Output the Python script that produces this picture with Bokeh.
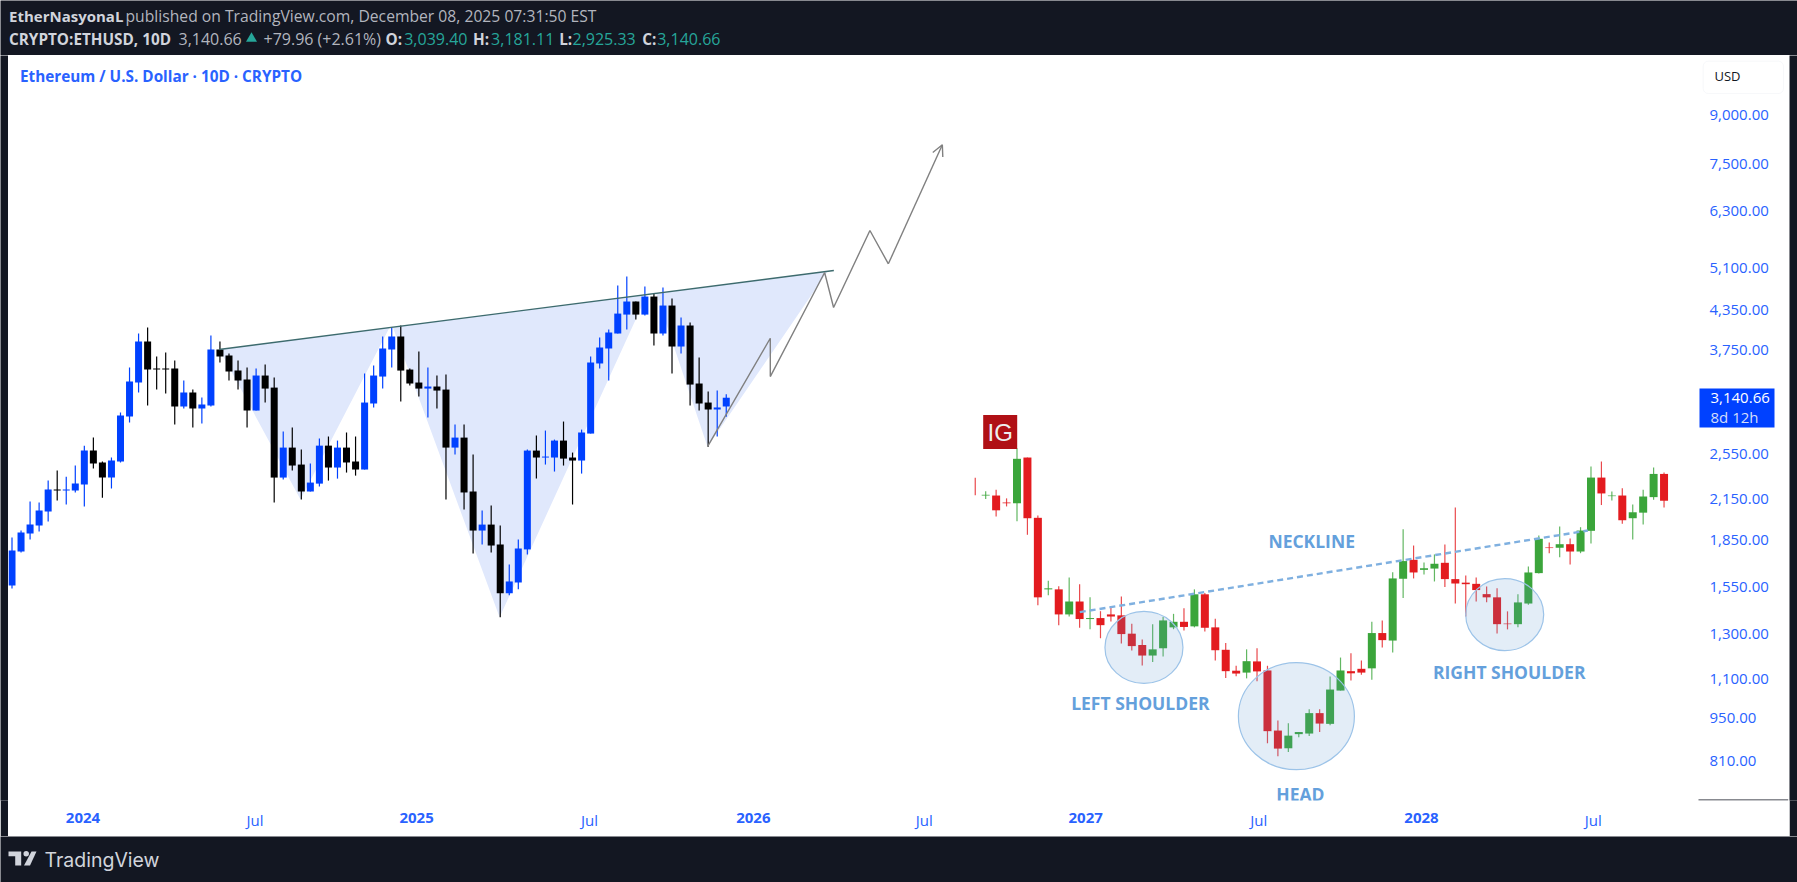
import numpy as np
from bokeh.core.properties import value
from bokeh.embed import file_html
from bokeh.layouts import column, row
from bokeh.models import (Arrow, BoxAnnotation, FixedTicker, Label, LinearAxis,
                          NumeralTickFormatter, OpenHead, Range1d)
from bokeh.plotting import figure
from bokeh.resources import INLINE

# ETH/USD 10D candles (left part of the chart)
eth_open = [1559, 1769, 1892, 1949, 2053, 2229, 2221, 2221, 2271, 2578, 2466, 2331, 2475, 2927, 3323, 3873,
            3501, 3501, 3501, 3039, 3201, 3016, 3050, 3759, 3675, 3475, 3361, 2993, 3411, 3261, 2331, 2607,
            2447, 2213, 2279, 2626, 2420, 2607, 2475, 2402, 3073, 3398, 3759, 3946, 3488, 3323, 3249, 3274,
            3237, 2607, 2706, 2213, 1913, 1956, 1816, 1514, 1576, 1783, 2578, 2512, 2512, 2676, 2512, 2484,
            2747, 3568, 3773, 3990, 4282, 4496, 4282, 4580, 3990, 4429, 3801, 4111, 3311, 3084, 3005, 3039]
eth_close = [1776, 1899, 1956, 2061, 2229, 2221, 2229, 2279, 2578, 2457, 2331, 2484, 2938, 3336, 3873, 3488,
             3488, 3488, 3039, 3201, 3016, 3061, 3759, 3661, 3462, 3348, 2993, 3411, 3249, 2331, 2607, 2438,
             2213, 2288, 2626, 2420, 2607, 2466, 2402, 3084, 3411, 3773, 3946, 3475, 3311, 3249, 3274, 3225,
             2607, 2706, 2205, 1913, 1956, 1809, 1514, 1582, 1789, 2578, 2512, 2521, 2676, 2502, 2484, 2758,
             3581, 3787, 4005, 4298, 4496, 4282, 4580, 3990, 4429, 3801, 4111, 3298, 3073, 3005, 3028, 3140]
eth_high = [1864, 1913, 2132, 2124, 2305, 2393, 2339, 2438, 2626, 2706, 2475, 2512, 2971, 3514, 3990, 4080,
            3661, 3717, 3607, 3348, 3237, 3142, 3961, 3873, 3703, 3607, 3514, 3501, 3555, 3386, 2768, 2809,
            2588, 2457, 2696, 2717, 2676, 2758, 2717, 3436, 3541, 3946, 4080, 4111, 3501, 3731, 3514, 3411,
            3423, 2841, 2841, 2540, 2061, 2100, 1949, 1686, 1850, 2588, 2727, 2778, 2686, 2873, 2559, 2788,
            3661, 3931, 4050, 4773, 4937, 4496, 4756, 4632, 4738, 4547, 4235, 4157, 3648, 3213, 3225, 3181]
eth_low = [1541, 1763, 1850, 1906, 1979, 2140, 2108, 2205, 2093, 2411, 2163, 2238, 2466, 2862, 3201, 3050,
           3237, 3189, 2841, 3016, 2809, 2852, 3039, 3581, 3348, 3237, 2809, 2993, 3084, 2124, 2314, 2393,
           2148, 2213, 2254, 2305, 2322, 2375, 2348, 2402, 3028, 3249, 3514, 3095, 3286, 3153, 2916, 3016,
           2148, 2540, 2069, 1756, 1816, 1763, 1384, 1502, 1536, 1750, 2322, 2447, 2384, 2438, 2108, 2366,
           2747, 3501, 3348, 3990, 4050, 4204, 4266, 3816, 3961, 3436, 3703, 3050, 2993, 2616, 2717, 2925]

# pasted IG candles (right part of the chart)
ig_open = [2250, 2180, 2180, 2124, 2118, 2512, 2006, 1536, 1536, 1399, 1468, 1375, 1380, 1399, 1394, 1302, 1248,
           1200, 1233, 1333, 1361, 1338, 1508, 1333, 1226, 1134, 1126, 1174, 1135, 907, 849, 895, 897, 968, 930,
           1053, 1132, 1142, 1144, 1305, 1269, 1598, 1715, 1652, 1660, 1696, 1596, 1575, 1568, 1509, 1491, 1352,
           1349, 1457, 1632, 1796, 1794, 1818, 1769, 1911, 2331, 2175, 2180, 2003, 2045, 2167, 2363]
ig_close = [2250, 2186, 2063, 2118, 2500, 2003, 1491, 1542, 1399, 1468, 1375, 1380, 1344, 1388, 1300, 1243, 1200,
            1228, 1368, 1361, 1335, 1508, 1331, 1224, 1132, 1122, 1175, 1131, 905, 848, 890, 902, 968, 931, 1057,
            1135, 1123, 1126, 1305, 1271, 1600, 1707, 1636, 1662, 1690, 1596, 1570, 1566, 1532, 1491, 1349, 1349,
            1463, 1636, 1855, 1792, 1818, 1769, 1913, 2331, 2197, 2180, 1988, 2048, 2172, 2363, 2138]
ig_high = [2329, 2215, 2227, 2157, 2601, 2512, 2023, 1586, 1554, 1606, 1565, 1491, 1416, 1435, 1496, 1351, 1274,
           1348, 1385, 1402, 1431, 1536, 1515, 1377, 1258, 1155, 1228, 1233, 1155, 942, 932, 902, 982, 982, 1110,
           1191, 1210, 1178, 1361, 1368, 1638, 1922, 1809, 1698, 1750, 1816, 2085, 1618, 1606, 1552, 1542, 1415,
           1508, 1673, 1878, 1829, 1942, 1857, 1937, 2429, 2475, 2213, 2240, 2108, 2227, 2420, 2375]
ig_low = [2182, 2151, 2016, 2093, 1981, 1883, 1447, 1502, 1343, 1388, 1331, 1324, 1280, 1363, 1255, 1223, 1156,
          1171, 1196, 1324, 1318, 1333, 1313, 1178, 1104, 1111, 1102, 1090, 865, 824, 837, 885, 889, 902, 925,
          1053, 1093, 1117, 1096, 1237, 1214, 1487, 1600, 1624, 1582, 1550, 1457, 1388, 1468, 1464, 1303, 1323,
          1333, 1451, 1630, 1758, 1732, 1686, 1758, 1822, 2104, 2140, 1962, 1850, 1956, 2146, 2085]

# drawings on the chart, bar number and price
pattern_x = [22.95, 31.91, 41.76, 42.09, 53.93, 70.3, 71.2, 76.93, 90.2]
pattern_y = [3759, 2148, 4080, 4095, 1384, 4632, 4648, 2616, 5028]
resistance_x = [22.9, 90.9]
resistance_y = [3759, 5047]
path_x = [76.93, 83.87, 83.87, 89.88, 90.87, 94.89, 96.93]
path_y = [2616, 3920, 3398, 5010, 4396, 5860, 5175]
arrow_tip = (102.9, 8068)
neckline_x = [118.1, 174.3]
neckline_y = [1411, 1913]
circle_x = [125.2, 142.06, 165.1]
circle_y = [1237, 957, 1398]
circle_w = [78, 116, 78]
circle_h = [72, 107, 72]
note_text = ["NECKLINE", "LEFT SHOULDER", "HEAD", "RIGHT SHOULDER"]
note_x = [143.75, 124.8, 142.5, 165.6]
note_y = [1838, 1005, 717, 1130]

price_ticks = [9000, 7500, 6300, 5100, 4350, 3750, 2550, 2150, 1850, 1550, 1300, 1100, 950, 810]
year_ticks = {7.85: "2024", 44.75: "2025", 82.0: "2026", 118.75: "2027", 155.9: "2028"}
month_ticks = {26.87: "Jul", 63.88: "Jul", 100.9: "Jul", 137.9: "Jul", 174.9: "Jul"}

DARK = "#131722"
BLUE = "#0041ff"
LABEL_BLUE = "#2962ff"
FONT = "Open Sans"


def candles(p, x, o, h, l, c, up_color, down_color, width, wick_alpha=1.0):
    x, o, h, l, c = map(np.asarray, (x, o, h, l, c))
    colors = np.where(c > o, up_color, down_color).tolist()
    p.segment(x, h, x, l, color=colors, line_width=1.2, line_alpha=wick_alpha)
    p.vbar(x, width, np.minimum(o, c), np.maximum(o, c), fill_color=colors, line_color=None)


# the frame runs to the right edge, the price scale is drawn inside it
p = figure(width=1781, height=781, y_axis_type="log", y_axis_location="right",
           x_range=Range1d(-0.387, 196.6), y_range=Range1d(698.7, 11258),
           output_backend="svg", toolbar_location=None,
           min_border_left=0, min_border_right=0, min_border_top=0, min_border_bottom=36,
           background_fill_color="white", border_fill_color="white", outline_line_color=None)
p.grid.visible = False

p.yaxis.ticker = FixedTicker(ticks=price_ticks)
p.yaxis.formatter = NumeralTickFormatter(format="0,0.00")
p.yaxis.axis_line_color = None
p.yaxis.major_tick_line_color = None
p.yaxis.minor_tick_line_color = None
p.yaxis.major_tick_out = 0
p.yaxis.major_label_standoff = -80
p.yaxis.major_label_text_color = LABEL_BLUE
p.yaxis.major_label_text_font = FONT
p.yaxis.major_label_text_font_size = "15px"

# months and years sit on the same row, the years are bold
p.xaxis.ticker = FixedTicker(ticks=list(month_ticks))
p.xaxis.major_label_overrides = month_ticks
years = LinearAxis(ticker=FixedTicker(ticks=list(year_ticks)), major_label_overrides=year_ticks)
p.add_layout(years, "below")
for ax, style in ((p.xaxis[0], "normal"), (years, "bold")):
    ax.axis_line_color = None
    ax.major_tick_line_color = None
    ax.minor_tick_line_color = None
    ax.major_tick_out = 0
    ax.major_label_text_color = LABEL_BLUE
    ax.major_label_text_font = FONT
    ax.major_label_text_font_size = "15px"
    ax.major_label_text_font_style = style
    ax.major_label_standoff = 9
years.major_label_standoff = -20

# harmonic pattern and the lines drawn over it
p.patch(pattern_x, pattern_y, fill_color="#e0e8fc", line_color=None)
candles(p, np.arange(len(eth_open)), eth_open, eth_high, eth_low, eth_close, BLUE, "#000000", 0.775)
p.line(resistance_x, resistance_y, line_color="#3d6b6e", line_width=1.4)
p.line(path_x, path_y, line_color="#808080", line_width=1.4)
p.add_layout(Arrow(end=OpenHead(size=11, line_color="#808080", line_width=1.4), line_color="#808080",
                   line_width=1.4, x_start=path_x[-1], y_start=path_y[-1],
                   x_end=arrow_tip[0], y_end=arrow_tip[1]))

# the pasted head and shoulders example
ig_x = 106.54 + 1.1543 * np.arange(len(ig_open))
candles(p, ig_x, ig_open, ig_high, ig_low, ig_close, "#3ba53b", "#e31b1f", 0.885, wick_alpha=0.8)
p.line(neckline_x, neckline_y, line_color="#7fb0e0", line_width=2.4, line_dash="6 4")
p.ellipse(circle_x, circle_y, width=circle_w, height=circle_h, width_units="screen", height_units="screen",
          fill_color="#5a95d0", fill_alpha=0.17, line_color="#9cc3e8", line_width=1.2)
p.text(note_x, note_y, text=note_text, text_align="center", text_baseline="middle", text_color="#64a0dc",
       text_font=value(FONT), text_font_style="bold", text_font_size="17.5px")
p.scatter([109.3], [2762], marker="square", size=34, fill_color="#b01015", line_color=None)
p.text([109.3], [2762], text=["IG"], text_align="center", text_baseline="middle", text_color="#eeeeee",
       text_font=value("Liberation Sans"), text_font_size="24px")

p.text([0.885], [10425], text=["Ethereum / U.S. Dollar · 10D · CRYPTO"], text_baseline="middle",
       text_color=LABEL_BLUE, text_font=value(FONT), text_font_style="bold", text_font_size="15.3px")

# currency button, price tag and the corner line of the price scale
p.add_layout(BoxAnnotation(left=1694.7, right=1775, top=11021, bottom=9770, left_units="screen", right_units="screen",
                           fill_color="white", fill_alpha=1, line_color="#e6e8ee", line_width=1, border_radius=5))
p.add_layout(Label(x=1706, y=10410, x_units="screen", text="USD", text_baseline="middle", text_color=DARK,
                   text_font=FONT, text_font_size="13px"))
p.add_layout(BoxAnnotation(left=1691, right=1766, top=3249, bottom=2809, left_units="screen", right_units="screen",
                           fill_color=BLUE, fill_alpha=1, line_color=None))
for txt, price, color in (("3,140.66", 3142, "#ffffff"), ("8d 12h", 2918, "#d5def9")):
    p.add_layout(Label(x=1702, y=price, x_units="screen", text=txt, text_baseline="middle", text_color=color,
                       text_font=FONT, text_font_size="15px"))
p.add_layout(BoxAnnotation(left=1690, right=1779.7, top=701.3, bottom=698.7, left_units="screen", right_units="screen",
                           fill_color=DARK, fill_alpha=1, line_color=None))


def strip(width, height):
    s = figure(width=width, height=height, x_range=Range1d(0, width), y_range=Range1d(height, 0),
               x_axis_type=None, y_axis_type=None, output_backend="svg", toolbar_location=None,
               min_border=0, background_fill_color=DARK, border_fill_color=DARK, outline_line_color=None)
    s.grid.visible = False
    return s


def runs(s, texts, xs, y, color, style="normal", size="16px", font=FONT):
    s.text(xs, [y] * len(xs), text=texts, text_baseline="middle", text_color=color,
           text_font=value(font), text_font_style=style, text_font_size=size)


head = strip(1797, 55)
runs(head, ["EtherNasyonaL"], [8.5], 15, "#d1d4dc", "bold", "15px")
runs(head, ["published on TradingView.com, December 08, 2025 07:31:50 EST"], [125], 15, "#b2b5be", size="15.7px")
runs(head, ["CRYPTO:ETHUSD, 10D", "O:", "H:", "L:", "C:"], [8.5, 385, 472.6, 558.7, 641.7], 38, "#d1d4dc", "bold", "15.3px")
runs(head, ["3,140.66", "+79.96 (+2.61%)"], [178, 263], 38, "#b2b5be")
runs(head, ["3,039.40", "3,181.11", "2,925.33", "3,140.66"], [403.7, 490.6, 572, 656.7], 38, "#26a69a")
head.scatter([251], [38], marker="triangle", size=11, fill_color="#26a69a", line_color=None)

foot = strip(1797, 46)
foot.patch([8, 20.7, 20.7, 14.7, 14.7, 8], [15, 15, 29, 29, 19.7, 19.7], fill_color="#d1d4dc", line_color=None)
foot.patch([31, 36, 29.5, 23.5], [15, 15, 29, 29], fill_color="#d1d4dc", line_color=None)
foot.scatter([25.7], [17.3], marker="circle", size=5.5, fill_color="#d1d4dc", line_color=None)
runs(foot, ["TradingView"], [44], 23, "#d1d4dc", size="19.5px", font="Inter")

page = column(head, row(strip(8, 781), p, strip(8, 781), spacing=0), foot, spacing=0)
open("out.html", "w").write(file_html(page, INLINE))
